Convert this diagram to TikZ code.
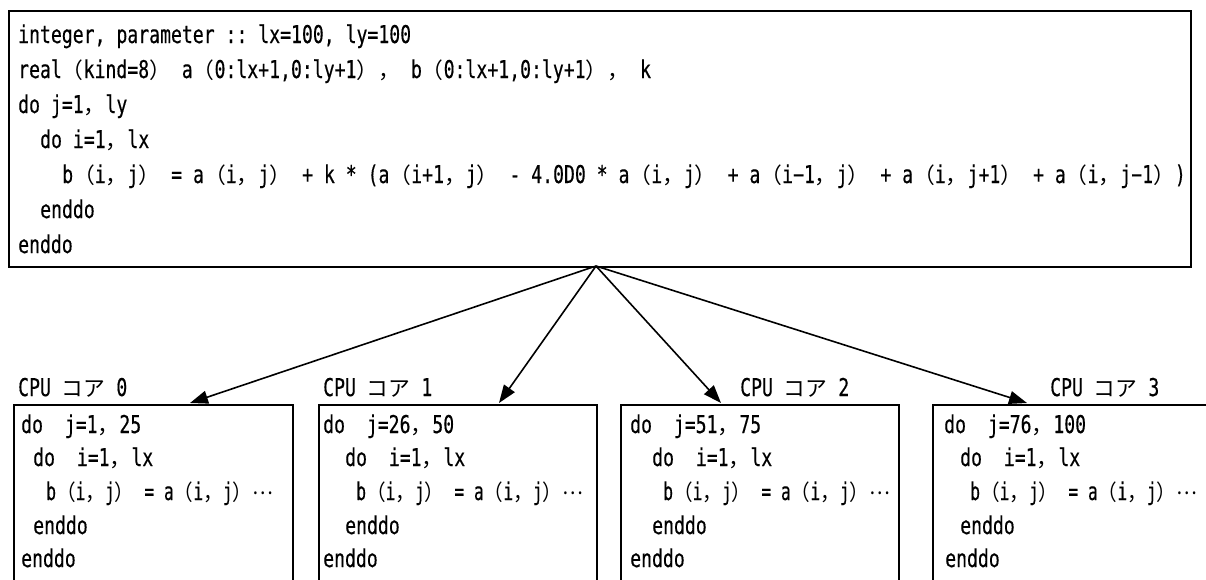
\documentclass[tikz,border=0pt]{standalone}
\usepackage{fontspec}
\setmonofont[FakeStretch=0.74,FakeBold=0.4]{DejaVu Sans Mono}
\newfontfamily\jpfont{Noto Sans CJK JP}
\usetikzlibrary{arrows.meta}
\newcommand\zj[1]{{\jpfont\fontsize{21.8}{21.8}\selectfont #1}}
\newcommand\pij[2]{\zj{（}#1\zj{，}#2\zj{）}}
\newcommand\zdots{\raisebox{6pt}{\zj{…}}}
\begin{document}
\begin{tikzpicture}[x=1pt,y=-1pt,
  code/.style={anchor=base west, inner sep=0pt, font=\fontsize{24.5}{24.5}\ttfamily},
  frame/.style={draw=black, line width=1.6pt, anchor=north west, inner sep=0pt},
  link/.style={draw=black, line width=1.6pt, -{Triangle[length=18pt,width=13pt]}}]
\useasboundingbox (0,0) rectangle (1206,579);
\clip (0,0) rectangle (1206,579);
% source box
\node[frame, minimum width=1182pt, minimum height=256pt] (src) at (8,10) {};
\node[code] (s1) at (18,43) {integer,~parameter~::~lx=100,~ly=100};
\node[code] (s2) at (18,78) {real\zj{（}kind=8\zj{）}~a\zj{（}0:lx+1,0:ly+1\zj{）}\zj{，}~b\zj{（}0:lx+1,0:ly+1\zj{）}\zj{，}~k};
\node[code] (s3) at (18,113) {do~j=1\zj{，}ly};
\node[code] (s4) at (40,148) {do~i=1\zj{，}lx};
\node[code] (s5) at (62,183) {b\pij{i}{j}~=~a\pij{i}{j}~+~k~*~(a\pij{i+1}{j}~-~4.0D0~*~a\pij{i}{j}~+~a\pij{i−1}{j}~+~a\pij{i}{j+1}~+~a\pij{i}{j−1})};
\node[code] (s6) at (40,218) {enddo};
\node[code] (s7) at (18,253) {enddo};
% core boxes
\node[frame, minimum width=279pt, minimum height=230pt] (c0) at (13,404) {};
\node[frame, minimum width=278pt, minimum height=230pt] (c1) at (318,404) {};
\node[frame, minimum width=278pt, minimum height=230pt] (c2) at (620,404) {};
\node[frame, minimum width=300pt, minimum height=230pt] (c3) at (932,404) {};
% labels
\node[code] (l0) at (18,396) {CPU~\zj{コア}~0};
\node[code] (l1) at (323,396) {CPU~\zj{コア}~1};
\node[code] (l2) at (740,396) {CPU~\zj{コア}~2};
\node[code] (l3) at (1050,396) {CPU~\zj{コア}~3};
% core 0
\node[code] (a1) at (21,433) {do~~j=1\zj{，}25};
\node[code] (a2) at (33,466) {do~~i=1\zj{，}lx};
\node[code] (a3) at (46,500) {\scalebox{0.9}[1]{b\pij{i}{j}~=~a\pij{i}{j}\zdots}};
\node[code] (a4) at (33,534) {enddo};
\node[code] (a5) at (21,567) {enddo};
% core 1
\node[code] (b1) at (323,433) {do~~j=26\zj{，}50};
\node[code] (b2) at (345,466) {do~~i=1\zj{，}lx};
\node[code] (b3) at (356,500) {\scalebox{0.9}[1]{b\pij{i}{j}~=~a\pij{i}{j}\zdots}};
\node[code] (b4) at (345,534) {enddo};
\node[code] (b5) at (323,567) {enddo};
% core 2
\node[code] (d1) at (630,433) {do~~j=51\zj{，}75};
\node[code] (d2) at (652,466) {do~~i=1\zj{，}lx};
\node[code] (d3) at (663,500) {\scalebox{0.9}[1]{b\pij{i}{j}~=~a\pij{i}{j}\zdots}};
\node[code] (d4) at (652,534) {enddo};
\node[code] (d5) at (630,567) {enddo};
% core 3
\node[code] (e1) at (944,433) {do~~j=76\zj{，}100};
\node[code] (e2) at (960,466) {do~~i=1\zj{，}lx};
\node[code] (e3) at (970,500) {\scalebox{0.9}[1]{b\pij{i}{j}~=~a\pij{i}{j}\zdots}};
\node[code] (e4) at (960,534) {enddo};
\node[code] (e5) at (945,567) {enddo};
% connectors
\coordinate (hub) at (596,266);
\coordinate (t0) at (190,403);
\coordinate (t1) at (499,403);
\coordinate (t2) at (721,403);
\coordinate (t3) at (1027,403);
\draw[link] (hub) -- (t0);
\draw[link] (hub) -- (t1);
\draw[link] (hub) -- (t2);
\draw[link] (hub) -- (t3);
\end{tikzpicture}
\end{document}
